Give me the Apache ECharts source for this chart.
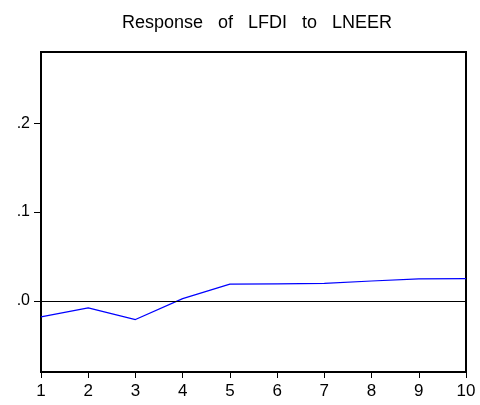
<!DOCTYPE html>
<html>
<head>
<meta charset="utf-8">
<script src="https://cdn.jsdelivr.net/npm/echarts@6/dist/echarts.min.js"></script>
<style>
html,body{margin:0;padding:0;background:#fff;}
#chart{width:480px;height:405px;}
</style>
</head>
<body>
<div id="chart"></div>
<script>
const periods = ['1','2','3','4','5','6','7','8','9','10'];
const response = [-0.018, -0.0079, -0.021, 0.0025, 0.0188, 0.0192, 0.0196, 0.0224, 0.0248, 0.025];
const yTicks = [0, 0.1, 0.2];
const titleText = 'Response   of   LFDI   to   LNEER';

const FONT = '"Liberation Sans", Arial, sans-serif';
const chart = echarts.init(document.getElementById('chart'), null, {renderer:'canvas'});
chart.setOption({
  animation: false,
  backgroundColor: '#fff',
  title: {
    text: titleText,
    left: 252, textAlign: 'center',
    top: 9,
    textStyle: {fontFamily: FONT, fontSize: 18, fontWeight: 'normal', color: '#000'}
  },
  grid: {
    left: 41, right: 14, top: 52, bottom: 33,
    show: true, borderColor: '#000', borderWidth: 2, backgroundColor: 'transparent'
  },
  xAxis: {
    type: 'category',
    data: periods,
    boundaryGap: false,
    position: 'bottom',
    axisLine: {show: false, onZero: false},
    axisTick: {show: true, inside: false, length: 6, lineStyle: {color: '#000', width: 1}},
    axisLabel: {margin: 11, fontFamily: FONT, fontSize: 17, color: '#000'},
    splitLine: {show: false}
  },
  yAxis: {
    type: 'value',
    min: -0.08, max: 0.28,
    axisLine: {show: false, onZero: false},
    axisTick: {show: true, inside: false, length: 7, customValues: yTicks, lineStyle: {color: '#000', width: 1}},
    axisLabel: {
      margin: 11, fontFamily: FONT, fontSize: 16, color: '#000',
      customValues: yTicks,
      formatter: v => v.toFixed(1).replace(/^0/, '')
    },
    splitLine: {show: false}
  },
  series: [{
    type: 'line',
    data: response,
    symbol: 'none',
    lineStyle: {color: '#0000ff', width: 1.2},
    markLine: {
      silent: true,
      symbol: ['none','none'],
      label: {show: false},
      lineStyle: {color: '#000', width: 1, type: 'solid'},
      data: [{yAxis: 0}]
    }
  }]
});
</script>
</body>
</html>
